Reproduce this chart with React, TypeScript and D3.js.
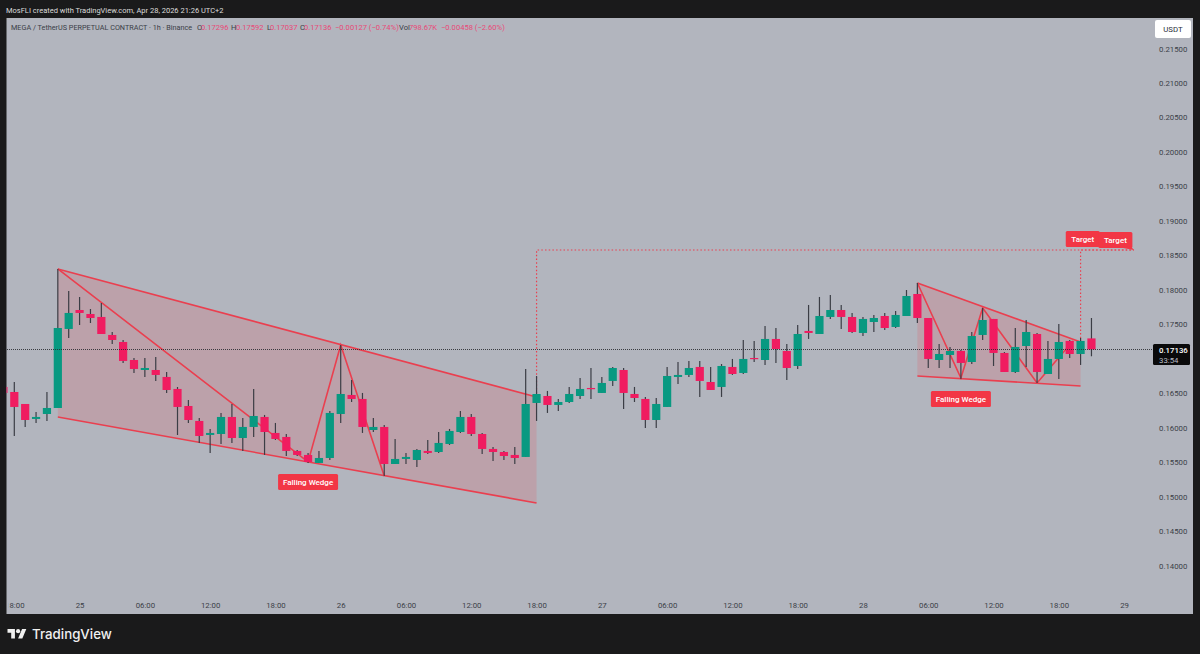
import { useEffect, useRef } from 'react';
import * as d3 from 'd3';

// hourly candles, first one is Apr 24 17:00, last one Apr 28 21:00
const opens = [
  0.16592, 0.16519, 0.16345, 0.16128, 0.162, 0.16287, 0.17433, 0.17708, 0.1765, 0.17607,
  0.17346, 0.17244, 0.16983, 0.16838, 0.16838, 0.16737, 0.16563, 0.16316, 0.16099, 0.15896,
  0.1591, 0.16157, 0.15852, 0.16012, 0.16157, 0.15925, 0.15867, 0.15664, 0.15606, 0.1549,
  0.15562, 0.162, 0.16476, 0.16418, 0.15968, 0.16012, 0.15475, 0.15548, 0.15533, 0.15664,
  0.15649, 0.15765, 0.15939, 0.16157, 0.1591, 0.15693, 0.15649, 0.15606, 0.15577, 0.1636,
  0.16461, 0.16331, 0.16374, 0.16461, 0.16577, 0.16505, 0.16679, 0.16838, 0.1649, 0.16418,
  0.16113, 0.16302, 0.16737, 0.16766, 0.16882, 0.16664, 0.16592, 0.16882, 0.16795, 0.17012,
  0.16983, 0.17288, 0.17114, 0.16896, 0.17404, 0.1736, 0.17607, 0.17708, 0.17607, 0.17375,
  0.17534, 0.17621, 0.17462, 0.17621, 0.1794, 0.17592, 0.16983, 0.17056, 0.17114, 0.16954,
  0.17346, 0.17578, 0.17085, 0.16809, 0.17186, 0.1736, 0.1678, 0.16998, 0.17259, 0.1707,
  0.17296,
];
const highs = [
  0.16621, 0.16664, 0.16345, 0.16229, 0.16519, 0.18303, 0.17984, 0.17897, 0.17723, 0.1781,
  0.17389, 0.17273, 0.17012, 0.17012, 0.17027, 0.16809, 0.16592, 0.16403, 0.16142, 0.15983,
  0.16215, 0.16345, 0.16142, 0.16563, 0.16186, 0.1607, 0.1591, 0.15678, 0.15635, 0.15664,
  0.16244, 0.17201, 0.16693, 0.16505, 0.16142, 0.16041, 0.15838, 0.15635, 0.15693, 0.15823,
  0.15939, 0.15983, 0.16244, 0.162, 0.15925, 0.15722, 0.15664, 0.15722, 0.16853, 0.16751,
  0.16534, 0.16418, 0.16592, 0.16722, 0.16867, 0.16737, 0.16882, 0.16867, 0.16592, 0.16447,
  0.16432, 0.16882, 0.16954, 0.16969, 0.16969, 0.16882, 0.16925, 0.16998, 0.17273, 0.17259,
  0.17476, 0.17447, 0.17215, 0.17491, 0.17781, 0.17897, 0.17926, 0.17781, 0.17665, 0.17607,
  0.17636, 0.17665, 0.17694, 0.17998, 0.181, 0.17592, 0.17215, 0.17172, 0.17128, 0.17389,
  0.17737, 0.17578, 0.17099, 0.17447, 0.17563, 0.17375, 0.17259, 0.17505, 0.17273, 0.17302,
  0.17592,
];
const lows = [
  0.16476, 0.15881, 0.16012, 0.1607, 0.16099, 0.16287, 0.17302, 0.17491, 0.1752, 0.1736,
  0.17215, 0.1694, 0.16795, 0.16737, 0.16679, 0.16505, 0.15896, 0.1607, 0.1578, 0.15635,
  0.15765, 0.1578, 0.15664, 0.15867, 0.15606, 0.15823, 0.15591, 0.15591, 0.1549, 0.1549,
  0.15533, 0.1607, 0.16374, 0.15925, 0.15939, 0.15301, 0.15475, 0.15475, 0.15432, 0.1562,
  0.15635, 0.15751, 0.15925, 0.15881, 0.1562, 0.15519, 0.15533, 0.15475, 0.15577, 0.16099,
  0.16215, 0.16244, 0.1636, 0.16418, 0.16418, 0.16505, 0.16606, 0.16273, 0.16374, 0.15997,
  0.15997, 0.16302, 0.16635, 0.16737, 0.16447, 0.16548, 0.16447, 0.16766, 0.1678, 0.16954,
  0.16911, 0.1694, 0.16693, 0.16853, 0.17288, 0.1736, 0.17578, 0.17433, 0.17375, 0.17331,
  0.17389, 0.17418, 0.17447, 0.17621, 0.1752, 0.16867, 0.16867, 0.16867, 0.16708, 0.16925,
  0.17273, 0.16896, 0.16809, 0.16795, 0.16882, 0.1665, 0.1678, 0.16708, 0.17012, 0.16911,
  0.17037,
];
const closes = [
  0.16505, 0.16302, 0.16113, 0.16157, 0.16287, 0.17447, 0.17665, 0.17665, 0.17592, 0.1736,
  0.17273, 0.16969, 0.16853, 0.16867, 0.16766, 0.16548, 0.16302, 0.16113, 0.15881, 0.15925,
  0.16157, 0.15852, 0.16012, 0.16171, 0.15939, 0.15838, 0.15664, 0.15606, 0.15504, 0.15562,
  0.16215, 0.1649, 0.16418, 0.16012, 0.16012, 0.15475, 0.15548, 0.15577, 0.15678, 0.15635,
  0.1578, 0.15954, 0.16157, 0.1591, 0.15693, 0.15649, 0.15591, 0.15562, 0.16345, 0.1649,
  0.16331, 0.16374, 0.1649, 0.16563, 0.16563, 0.1665, 0.16867, 0.16505, 0.16432, 0.16113,
  0.16345, 0.16751, 0.16766, 0.16867, 0.16679, 0.16548, 0.16896, 0.1678, 0.16998, 0.16998,
  0.17288, 0.17143, 0.16867, 0.1736, 0.17375, 0.17621, 0.17708, 0.17607, 0.17389, 0.17578,
  0.17592, 0.17447, 0.17636, 0.17911, 0.17592, 0.16998, 0.1707, 0.17114, 0.1694, 0.17331,
  0.17563, 0.17085, 0.16809, 0.17172, 0.17389, 0.16809, 0.16998, 0.17244, 0.1707, 0.17259,
  0.17136,
];

const priceTicks = [
  0.215, 0.21, 0.205, 0.2, 0.195, 0.19, 0.185, 0.18, 0.175, 0.17, 0.165, 0.16, 0.155, 0.15,
  0.145, 0.14,
];
// hours counted from Apr 24 18:00
const timeTicks = [0, 6, 12, 18, 24, 30, 36, 42, 48, 54, 60, 66, 72, 78, 84, 90, 96, 102];
const timeLabels = [
  '18:00', '25', '06:00', '12:00', '18:00', '26', '06:00', '12:00', '18:00', '27', '06:00',
  '12:00', '18:00', '28', '06:00', '12:00', '18:00', '29',
];

const lastPrice = 0.17136;

// drawings as [hour, price]
const wedgeOneArea = [[4, 0.18303], [48, 0.16447], [48, 0.1491], [4, 0.16157]];
const wedgeOnePath = [[4, 0.18303], [27, 0.15504], [30, 0.17201], [34, 0.15301]];
const wedgeTwoArea = [[83, 0.181], [98, 0.17244], [98, 0.16606], [83, 0.16751]];
const wedgeTwoPath = [[83, 0.181], [87, 0.16722], [89, 0.17737], [94, 0.1665], [97.3, 0.17259]];
const targetOne = [[48, 0.16447], [48, 0.18578], [102.9, 0.18578]];
const targetTwo = [[98, 0.17244], [98, 0.18578], [102.9, 0.18578]];
const wedgeLabels = [[27, 0.15214], [87, 0.16418]];
const targetLabels = [[98.2, 0.18737], [101.2, 0.18723]];

const legendParts = [
  { x: 197, text: 'O', dark: true },
  { x: 201, text: '0.17296', dark: false },
  { x: 231, text: 'H', dark: true },
  { x: 236, text: '0.17592', dark: false },
  { x: 267, text: 'L', dark: true },
  { x: 270, text: '0.17037', dark: false },
  { x: 300, text: 'C', dark: true },
  { x: 304, text: '0.17136', dark: false },
  { x: 335, text: '−0.00127 (−0.74%)', dark: false },
  { x: 399, text: 'Vol', dark: true },
  { x: 409, text: '798.67K', dark: false },
  { x: 441, text: '−0.00458 (−2.60%)', dark: false },
];

const GREEN = '#089981';
const PINK = '#f01c60';
const RED = '#ea3f4f';
const WICK = '#3b3d45';
const FONT = 'Roboto, sans-serif';

export default function App() {
  const svgRef = useRef<SVGSVGElement>(null);

  useEffect(() => {
    if (!svgRef.current) return;
    const svg = d3.select(svgRef.current);
    svg.selectAll('*').remove();

    const x = d3.scaleLinear().domain([0, 102]).range([14.3, 1124.1]);
    const y = d3.scaleLinear().domain([0.14, 0.215]).range([565.7, 48.5]);
    const toLine = d3.line<number[]>().x((d) => x(d[0])).y((d) => y(d[1]));

    // frame and plot background
    svg.append('rect').attr('width', 1200).attr('height', 654).attr('fill', '#1a1a1b');
    svg
      .append('rect')
      .attr('x', 6.5)
      .attr('y', 18)
      .attr('width', 1186.5)
      .attr('height', 596)
      .attr('fill', '#b2b5be');

    svg
      .append('clipPath')
      .attr('id', 'plot')
      .append('rect')
      .attr('x', 6.5)
      .attr('y', 18)
      .attr('width', 1186.5)
      .attr('height', 596);
    // first time label is cut by the left edge
    svg
      .append('clipPath')
      .attr('id', 'time-axis')
      .append('rect')
      .attr('x', 8.5)
      .attr('y', 590)
      .attr('width', 1180)
      .attr('height', 24);

    const plot = svg.append('g').attr('clip-path', 'url(#plot)');

    // wedges sit under the candles
    [wedgeOneArea, wedgeTwoArea].forEach((area) => {
      plot
        .append('path')
        .attr('d', toLine(area) + 'Z')
        .attr('fill', '#f23645')
        .attr('fill-opacity', 0.16);
      [[area[0], area[1]], [area[3], area[2]]].forEach((edge) => {
        plot
          .append('path')
          .attr('d', toLine(edge))
          .attr('fill', 'none')
          .attr('stroke', RED)
          .attr('stroke-width', 1.6);
      });
    });
    [wedgeOnePath, wedgeTwoPath].forEach((path) => {
      plot
        .append('path')
        .attr('d', toLine(path))
        .attr('fill', 'none')
        .attr('stroke', RED)
        .attr('stroke-width', 1.6);
    });
    [targetOne, targetTwo].forEach((path) => {
      plot
        .append('path')
        .attr('d', toLine(path))
        .attr('fill', 'none')
        .attr('stroke', RED)
        .attr('stroke-width', 1.2)
        .attr('stroke-dasharray', '1.5 2.2');
    });

    // candles
    const candles = plot
      .append('g')
      .selectAll('g')
      .data(opens)
      .join('g')
      .attr('transform', (_, i) => `translate(${x(i - 1)},0)`);
    candles
      .append('line')
      .attr('y1', (_, i) => y(highs[i]))
      .attr('y2', (_, i) => y(lows[i]))
      .attr('stroke', WICK)
      .attr('stroke-width', 1.2);
    candles
      .append('rect')
      .attr('x', -4.1)
      .attr('width', 8.2)
      .attr('y', (d, i) => y(Math.max(d, closes[i])))
      .attr('height', (d, i) => Math.max(1.2, Math.abs(y(d) - y(closes[i]))))
      .attr('fill', (d, i) => (closes[i] >= d ? GREEN : PINK));

    // last price line
    plot
      .append('line')
      .attr('x1', 7)
      .attr('x2', 1153)
      .attr('y1', Math.round(y(lastPrice)) + 0.5)
      .attr('y2', Math.round(y(lastPrice)) + 0.5)
      .attr('stroke', '#26282e')
      .attr('stroke-width', 1)
      .attr('stroke-opacity', 0.85)
      .attr('stroke-dasharray', '1 1');

    // pattern labels
    const label = (hour: number, price: number, text: string, w: number) => {
      const g = plot.append('g').attr('transform', `translate(${x(hour)},${y(price)})`);
      g.append('rect')
        .attr('x', -w / 2)
        .attr('y', -8)
        .attr('width', w)
        .attr('height', 16)
        .attr('rx', 1.5)
        .attr('fill', '#f23645');
      g.append('text')
        .attr('text-anchor', 'middle')
        .attr('y', 2.8)
        .attr('fill', '#fff')
        .attr('font-family', FONT)
        .attr('font-size', 8)
        .attr('font-weight', 500)
        .text(text);
    };
    wedgeLabels.forEach((d) => label(d[0], d[1], 'Falling Wedge', 60));
    targetLabels.forEach((d) => label(d[0], d[1], 'Target', 34));
    // small tail of the second target label
    plot
      .append('path')
      .attr('d', toLine([[101.3, 0.18625], [102.9, 0.18578], [102.6, 0.18635]]) + 'Z')
      .attr('fill', '#f23645');

    // axes
    const priceAxis = svg
      .append('g')
      .attr('transform', 'translate(1159,0)')
      .call(
        d3
          .axisRight(y)
          .tickValues(priceTicks)
          .tickSize(0)
          .tickPadding(0)
          .tickFormat((d) => d3.format('.5f')(Number(d)))
      );
    priceAxis.select('.domain').remove();
    priceAxis
      .selectAll('text')
      .attr('fill', '#3b3e47')
      .attr('font-family', FONT)
      .attr('font-size', 7.8);

    const timeAxis = svg
      .append('g')
      .attr('clip-path', 'url(#time-axis)')
      .append('g')
      .attr('transform', 'translate(0,599)')
      .call(
        d3
          .axisBottom(x)
          .tickValues(timeTicks)
          .tickSize(0)
          .tickPadding(3)
          .tickFormat((_, i) => timeLabels[i])
      );
    timeAxis.select('.domain').remove();
    timeAxis
      .selectAll('text')
      .attr('fill', '#3b3e47')
      .attr('font-family', FONT)
      .attr('font-size', 7.8);

    // last price tag
    svg
      .append('rect')
      .attr('x', 1153)
      .attr('y', 344)
      .attr('width', 37)
      .attr('height', 21)
      .attr('rx', 1.5)
      .attr('fill', '#0a0a0b');
    svg
      .append('text')
      .attr('x', 1159)
      .attr('y', 352.5)
      .attr('fill', '#fff')
      .attr('font-family', FONT)
      .attr('font-size', 7.8)
      .attr('font-weight', 500)
      .text(d3.format('.5f')(lastPrice));
    svg
      .append('text')
      .attr('x', 1159)
      .attr('y', 362.5)
      .attr('fill', '#b9bcc4')
      .attr('font-family', FONT)
      .attr('font-size', 7.8)
      .text('33:54');

    // currency button
    svg
      .append('rect')
      .attr('x', 1155)
      .attr('y', 20)
      .attr('width', 36)
      .attr('height', 18)
      .attr('rx', 2)
      .attr('fill', '#fff');
    svg
      .append('text')
      .attr('x', 1173)
      .attr('y', 32)
      .attr('text-anchor', 'middle')
      .attr('fill', '#2a2e39')
      .attr('font-family', FONT)
      .attr('font-size', 7.8)
      .text('USDT');

    // header and legend
    svg
      .append('text')
      .attr('x', 6)
      .attr('y', 12.5)
      .attr('fill', '#dcdcdc')
      .attr('font-family', FONT)
      .attr('font-size', 7.5)
      .text('MosFLI created with TradingView.com, Apr 28, 2026 21:26 UTC+2');
    svg
      .append('text')
      .attr('x', 11)
      .attr('y', 30)
      .attr('fill', '#3b3e47')
      .attr('font-family', FONT)
      .attr('font-size', 7.25)
      .text('MEGA / TetherUS PERPETUAL CONTRACT · 1h · Binance');
    legendParts.forEach((p) => {
      svg
        .append('text')
        .attr('x', p.x)
        .attr('y', 30)
        .attr('fill', p.dark ? '#3b3e47' : '#e84a78')
        .attr('font-family', FONT)
        .attr('font-size', 7.6)
        .text(p.text);
    });

    // logo
    const logo = svg
      .append('g')
      .attr('transform', 'translate(7.5,626.9) scale(0.53)')
      .attr('fill', '#f0f0f0');
    logo.append('path').attr('d', 'M14 22H7V11H0V4h14v18zM28 22h-8l7.5-18h8L28 22z');
    logo.append('circle').attr('cx', 20).attr('cy', 8).attr('r', 4);
    svg
      .append('text')
      .attr('x', 32)
      .attr('y', 638.8)
      .attr('fill', '#f0f0f0')
      .attr('font-family', 'Inter, sans-serif')
      .attr('font-size', 13.3)
      .attr('font-weight', 500)
      .text('TradingView');
  }, []);

  return (
    <svg
      ref={svgRef}
      width={1200}
      height={654}
      style={{ position: 'absolute', top: 0, left: 0, display: 'block' }}
    />
  );
}
